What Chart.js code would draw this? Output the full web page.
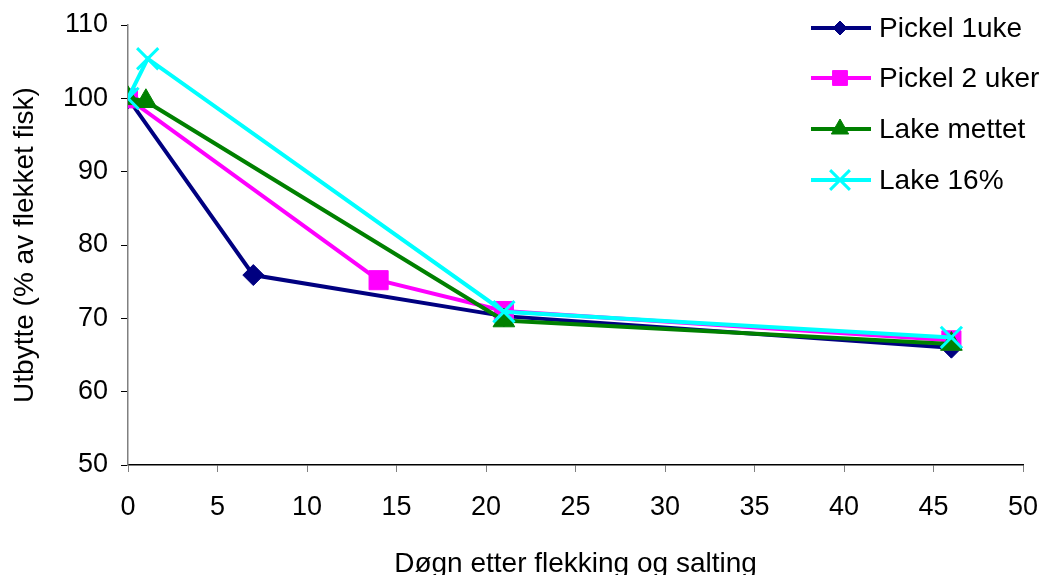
<!DOCTYPE html>
<html>
<head>
<meta charset="utf-8">
<script src="https://cdn.jsdelivr.net/npm/chart.js@4/dist/chart.umd.min.js"></script>
<style>
  html, body { margin: 0; padding: 0; background: #fff; }
  #wrap { width: 1041px; height: 575px; position: relative; }
</style>
</head>
<body>
<div id="wrap"><canvas id="yieldChart"></canvas></div>
<script>
// Data
const seriesNames = ['Pickel 1uke', 'Pickel 2 uker', 'Lake mettet', 'Lake 16%'];
const daysPickel1 = [0, 7, 21, 46];
const pickel1 = [100, 75.9, 70.3, 66.0];
const daysPickel2 = [0, 14, 21, 46];
const pickel2 = [100, 75.2, 71.0, 67.0];
const daysLakeMettet = [0, 1, 21, 46];
const lakeMettet = [100, 99.6, 69.7, 66.5];
const daysLake16 = [0, 1.1, 21, 46];
const lake16 = [100, 105.4, 70.9, 67.4];
const xTicks = [0, 5, 10, 15, 20, 25, 30, 35, 40, 45, 50];
const yTicks = [50, 60, 70, 80, 90, 100, 110];

const FONT = 'Liberation Sans, Arial, sans-serif';
const FSIZE = 27;
const TSIZE = 28;
const colors = ['#000080', '#FF00FF', '#008000', '#00FFFF'];
const shapes = ['rectRot', 'rect', 'triangle', 'crossRot'];
const radii = [10.5, 13.5, 12.5, 15];
const legendRadii = [7, 10.5, 10, 14];

function toPoints(xs, ys) {
    return xs.map((x, i) => ({ x: x, y: ys[i] }));
}

const allSeries = [
    toPoints(daysPickel1, pickel1),
    toPoints(daysPickel2, pickel2),
    toPoints(daysLakeMettet, lakeMettet),
    toPoints(daysLake16, lake16)
];

const datasets = allSeries.map((pts, i) => ({
    label: seriesNames[i],
    data: pts,
    borderColor: colors[i],
    backgroundColor: colors[i],
    pointBackgroundColor: colors[i],
    pointBorderColor: colors[i],
    pointStyle: shapes[i],
    pointRadius: radii[i],
    pointBorderWidth: i === 3 ? 3 : 1,
    borderWidth: 4,
    tension: 0,
    order: 3 - i
}));

// Legend drawn inside the plot, Excel style
const legendPlugin = {
    id: 'excelLegend',
    afterDraw(chart) {
        const ctx = chart.ctx;
        const rowsY = [28, 78, 129, 180];
        ctx.save();
        seriesNames.forEach((name, i) => {
            const y = rowsY[i];
            ctx.strokeStyle = colors[i];
            ctx.lineWidth = 4;
            ctx.beginPath();
            ctx.moveTo(811, y);
            ctx.lineTo(871, y);
            ctx.stroke();
            ctx.fillStyle = colors[i];
            ctx.lineWidth = i === 3 ? 3 : 1;
            Chart.helpers.drawPoint(ctx, {
                pointStyle: shapes[i],
                radius: legendRadii[i],
                rotation: 0,
                borderWidth: i === 3 ? 3 : 1
            }, 840, y);
            ctx.fillStyle = '#000';
            ctx.font = TSIZE + 'px ' + FONT;
            ctx.textBaseline = 'middle';
            ctx.textAlign = 'left';
            ctx.fillText(name, 879, y + 1);
        });
        ctx.restore();
    }
};

new Chart(document.getElementById('yieldChart'), {
    type: 'line',
    data: { datasets: datasets },
    options: {
        responsive: true,
        maintainAspectRatio: false,
        animation: false,
        layout: { padding: { top: 25, right: 18, left: 0, bottom: 0 } },
        plugins: {
            legend: { display: false },
            tooltip: { enabled: false }
        },
        scales: {
            x: {
                type: 'linear',
                min: 0,
                max: 50,
                afterBuildTicks: s => { s.ticks = xTicks.map(v => ({ value: v })); },
                afterFit: s => { s.height = 110; s.paddingRight = 0; s.paddingLeft = 0; },
                grid: { drawOnChartArea: false, drawTicks: true, tickLength: 7, color: '#808080', lineWidth: 1 },
                border: { color: '#000', width: 1.5 },
                ticks: { color: '#000', font: { family: FONT, size: FSIZE }, padding: 19, maxRotation: 0 },
                title: {
                    display: true,
                    text: 'Døgn etter flekking og salting',
                    color: '#000',
                    font: { family: FONT, size: TSIZE, lineHeight: 1 },
                    padding: { top: 0, bottom: -3 }
                }
            },
            y: {
                type: 'linear',
                min: 50,
                max: 110,
                afterBuildTicks: s => { s.ticks = yTicks.map(v => ({ value: v })); },
                afterFit: s => { s.width = 128; s.paddingTop = 0; s.paddingBottom = 0; },
                grid: { drawOnChartArea: false, drawTicks: true, tickLength: 7, color: '#000', lineWidth: 1 },
                border: { color: '#808080', width: 1.5 },
                ticks: { color: '#000', font: { family: FONT, size: FSIZE }, padding: 13 },
                title: {
                    display: true,
                    text: 'Utbytte (% av flekket fisk)',
                    color: '#000',
                    font: { family: FONT, size: TSIZE, lineHeight: 1 },
                    padding: { top: 11, bottom: 0 }
                }
            }
        }
    },
    plugins: [legendPlugin]
});
</script>
</body>
</html>
